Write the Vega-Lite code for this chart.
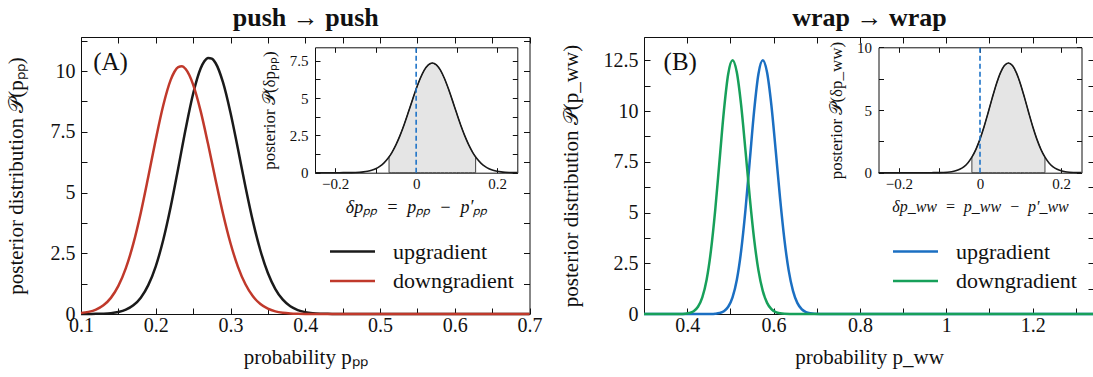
{
"$schema":"https://vega.github.io/schema/vega-lite/v6.json",
"width":1093,"height":377,"autosize":{"type":"none"},"padding":0,"background":"white",
"datasets":{
"lm":[
{"p":0.10,"d":0.001,"s":"upgradient"},{"p":0.11,"d":0.002,"s":"upgradient"},{"p":0.12,"d":0.006,"s":"upgradient"},{"p":0.13,"d":0.015,"s":"upgradient"},{"p":0.14,"d":0.036,"s":"upgradient"},{"p":0.15,"d":0.082,"s":"upgradient"},{"p":0.16,"d":0.177,"s":"upgradient"},{"p":0.17,"d":0.357,"s":"upgradient"},{"p":0.18,"d":0.673,"s":"upgradient"},{"p":0.19,"d":1.188,"s":"upgradient"},{"p":0.20,"d":1.964,"s":"upgradient"},{"p":0.21,"d":3.044,"s":"upgradient"},{"p":0.22,"d":4.412,"s":"upgradient"},{"p":0.23,"d":5.990,"s":"upgradient"},{"p":0.24,"d":7.615,"s":"upgradient"},{"p":0.25,"d":9.063,"s":"upgradient"},{"p":0.26,"d":10.10,"s":"upgradient"},{"p":0.265,"d":10.40,"s":"upgradient"},{"p":0.27,"d":10.54,"s":"upgradient"},{"p":0.275,"d":10.51,"s":"upgradient"},{"p":0.28,"d":10.33,"s":"upgradient"},{"p":0.29,"d":9.53,"s":"upgradient"},{"p":0.30,"d":8.286,"s":"upgradient"},{"p":0.31,"d":6.789,"s":"upgradient"},{"p":0.32,"d":5.240,"s":"upgradient"},{"p":0.33,"d":3.812,"s":"upgradient"},{"p":0.34,"d":2.613,"s":"upgradient"},{"p":0.35,"d":1.688,"s":"upgradient"},{"p":0.36,"d":1.027,"s":"upgradient"},{"p":0.37,"d":0.589,"s":"upgradient"},{"p":0.38,"d":0.318,"s":"upgradient"},{"p":0.39,"d":0.162,"s":"upgradient"},{"p":0.40,"d":0.078,"s":"upgradient"},{"p":0.41,"d":0.035,"s":"upgradient"},{"p":0.42,"d":0.015,"s":"upgradient"},{"p":0.43,"d":0.006,"s":"upgradient"},{"p":0.44,"d":0.002,"s":"upgradient"},{"p":0.46,"d":0,"s":"upgradient"},{"p":0.5,"d":0,"s":"upgradient"},{"p":0.6,"d":0,"s":"upgradient"},{"p":0.7,"d":0,"s":"upgradient"},
{"p":0.10,"d":0.039,"s":"downgradient"},{"p":0.11,"d":0.087,"s":"downgradient"},{"p":0.12,"d":0.182,"s":"downgradient"},{"p":0.13,"d":0.359,"s":"downgradient"},{"p":0.14,"d":0.664,"s":"downgradient"},{"p":0.15,"d":1.155,"s":"downgradient"},{"p":0.16,"d":1.886,"s":"downgradient"},{"p":0.17,"d":2.894,"s":"downgradient"},{"p":0.18,"d":4.170,"s":"downgradient"},{"p":0.19,"d":5.647,"s":"downgradient"},{"p":0.20,"d":7.183,"s":"downgradient"},{"p":0.21,"d":8.583,"s":"downgradient"},{"p":0.22,"d":9.635,"s":"downgradient"},{"p":0.225,"d":9.97,"s":"downgradient"},{"p":0.23,"d":10.16,"s":"downgradient"},{"p":0.235,"d":10.20,"s":"downgradient"},{"p":0.24,"d":10.08,"s":"downgradient"},{"p":0.245,"d":9.825,"s":"downgradient"},{"p":0.25,"d":9.44,"s":"downgradient"},{"p":0.26,"d":8.359,"s":"downgradient"},{"p":0.27,"d":6.992,"s":"downgradient"},{"p":0.28,"d":5.526,"s":"downgradient"},{"p":0.29,"d":4.127,"s":"downgradient"},{"p":0.30,"d":2.912,"s":"downgradient"},{"p":0.31,"d":1.942,"s":"downgradient"},{"p":0.32,"d":1.223,"s":"downgradient"},{"p":0.33,"d":0.728,"s":"downgradient"},{"p":0.34,"d":0.410,"s":"downgradient"},{"p":0.35,"d":0.218,"s":"downgradient"},{"p":0.36,"d":0.109,"s":"downgradient"},{"p":0.37,"d":0.052,"s":"downgradient"},{"p":0.38,"d":0.023,"s":"downgradient"},{"p":0.39,"d":0.010,"s":"downgradient"},{"p":0.40,"d":0.004,"s":"downgradient"},{"p":0.42,"d":0,"s":"downgradient"},{"p":0.5,"d":0,"s":"downgradient"},{"p":0.6,"d":0,"s":"downgradient"},{"p":0.7,"d":0,"s":"downgradient"}
],
"rm":[
{"p":0.3,"d":0,"s":"upgradient"},{"p":0.4,"d":0,"s":"upgradient"},{"p":0.455,"d":0.004,"s":"upgradient"},{"p":0.465,"d":0.015,"s":"upgradient"},{"p":0.475,"d":0.048,"s":"upgradient"},{"p":0.485,"d":0.139,"s":"upgradient"},{"p":0.495,"d":0.357,"s":"upgradient"},{"p":0.505,"d":0.82,"s":"upgradient"},{"p":0.515,"d":1.69,"s":"upgradient"},{"p":0.525,"d":3.12,"s":"upgradient"},{"p":0.535,"d":5.14,"s":"upgradient"},{"p":0.545,"d":7.58,"s":"upgradient"},{"p":0.555,"d":10.01,"s":"upgradient"},{"p":0.565,"d":11.83,"s":"upgradient"},{"p":0.575,"d":12.5,"s":"upgradient"},{"p":0.585,"d":11.90,"s":"upgradient"},{"p":0.595,"d":10.28,"s":"upgradient"},{"p":0.605,"d":8.05,"s":"upgradient"},{"p":0.615,"d":5.72,"s":"upgradient"},{"p":0.625,"d":3.69,"s":"upgradient"},{"p":0.635,"d":2.15,"s":"upgradient"},{"p":0.645,"d":1.14,"s":"upgradient"},{"p":0.655,"d":0.549,"s":"upgradient"},{"p":0.665,"d":0.240,"s":"upgradient"},{"p":0.675,"d":0.095,"s":"upgradient"},{"p":0.685,"d":0.034,"s":"upgradient"},{"p":0.695,"d":0.011,"s":"upgradient"},{"p":0.72,"d":0,"s":"upgradient"},{"p":1.0,"d":0,"s":"upgradient"},{"p":1.342,"d":0,"s":"upgradient"},
{"p":0.3,"d":0,"s":"downgradient"},{"p":0.35,"d":0,"s":"downgradient"},{"p":0.385,"d":0.004,"s":"downgradient"},{"p":0.395,"d":0.015,"s":"downgradient"},{"p":0.405,"d":0.048,"s":"downgradient"},{"p":0.415,"d":0.139,"s":"downgradient"},{"p":0.425,"d":0.357,"s":"downgradient"},{"p":0.435,"d":0.82,"s":"downgradient"},{"p":0.445,"d":1.69,"s":"downgradient"},{"p":0.455,"d":3.12,"s":"downgradient"},{"p":0.465,"d":5.14,"s":"downgradient"},{"p":0.475,"d":7.58,"s":"downgradient"},{"p":0.485,"d":10.01,"s":"downgradient"},{"p":0.495,"d":11.83,"s":"downgradient"},{"p":0.505,"d":12.5,"s":"downgradient"},{"p":0.515,"d":11.90,"s":"downgradient"},{"p":0.525,"d":10.28,"s":"downgradient"},{"p":0.535,"d":8.05,"s":"downgradient"},{"p":0.545,"d":5.72,"s":"downgradient"},{"p":0.555,"d":3.69,"s":"downgradient"},{"p":0.565,"d":2.15,"s":"downgradient"},{"p":0.575,"d":1.14,"s":"downgradient"},{"p":0.585,"d":0.549,"s":"downgradient"},{"p":0.595,"d":0.240,"s":"downgradient"},{"p":0.605,"d":0.095,"s":"downgradient"},{"p":0.615,"d":0.034,"s":"downgradient"},{"p":0.625,"d":0.011,"s":"downgradient"},{"p":0.65,"d":0,"s":"downgradient"},{"p":1.0,"d":0,"s":"downgradient"},{"p":1.342,"d":0,"s":"downgradient"}
],
"li":[
{"dp":-0.25,"d":0},{"dp":-0.2,"d":0.001},{"dp":-0.18,"d":0.002},{"dp":-0.16,"d":0.008},{"dp":-0.15,"d":0.016},{"dp":-0.14,"d":0.030},{"dp":-0.13,"d":0.055},{"dp":-0.12,"d":0.096},{"dp":-0.11,"d":0.162},{"dp":-0.10,"d":0.265},{"dp":-0.09,"d":0.418},{"dp":-0.08,"d":0.639},{"dp":-0.07,"d":0.944},{"dp":-0.06,"d":1.348},{"dp":-0.05,"d":1.861},{"dp":-0.04,"d":2.483},{"dp":-0.03,"d":3.202},{"dp":-0.02,"d":3.992},{"dp":-0.01,"d":4.811},{"dp":0,"d":5.604},{"dp":0.01,"d":6.310},{"dp":0.02,"d":6.868},{"dp":0.03,"d":7.227},{"dp":0.04,"d":7.35},{"dp":0.05,"d":7.227},{"dp":0.06,"d":6.868},{"dp":0.07,"d":6.310},{"dp":0.08,"d":5.604},{"dp":0.09,"d":4.811},{"dp":0.10,"d":3.992},{"dp":0.11,"d":3.202},{"dp":0.12,"d":2.483},{"dp":0.13,"d":1.861},{"dp":0.14,"d":1.348},{"dp":0.15,"d":0.944},{"dp":0.16,"d":0.639},{"dp":0.17,"d":0.418},{"dp":0.18,"d":0.265},{"dp":0.19,"d":0.162},{"dp":0.20,"d":0.096},{"dp":0.21,"d":0.055},{"dp":0.22,"d":0.030},{"dp":0.23,"d":0.016},{"dp":0.24,"d":0.008},{"dp":0.25,"d":0.004}
],
"lis":[
{"dp":-0.067,"d":1.055},{"dp":-0.06,"d":1.348},{"dp":-0.05,"d":1.861},{"dp":-0.04,"d":2.483},{"dp":-0.03,"d":3.202},{"dp":-0.02,"d":3.992},{"dp":-0.01,"d":4.811},{"dp":0,"d":5.604},{"dp":0.01,"d":6.310},{"dp":0.02,"d":6.868},{"dp":0.03,"d":7.227},{"dp":0.04,"d":7.35},{"dp":0.05,"d":7.227},{"dp":0.06,"d":6.868},{"dp":0.07,"d":6.310},{"dp":0.08,"d":5.604},{"dp":0.09,"d":4.811},{"dp":0.10,"d":3.992},{"dp":0.11,"d":3.202},{"dp":0.12,"d":2.483},{"dp":0.13,"d":1.861},{"dp":0.14,"d":1.348},{"dp":0.147,"d":1.055}
],
"ri":[
{"dp":-0.25,"d":0},{"dp":-0.15,"d":0},{"dp":-0.12,"d":0.001},{"dp":-0.11,"d":0.004},{"dp":-0.10,"d":0.008},{"dp":-0.09,"d":0.018},{"dp":-0.08,"d":0.038},{"dp":-0.07,"d":0.077},{"dp":-0.06,"d":0.148},{"dp":-0.05,"d":0.270},{"dp":-0.04,"d":0.471},{"dp":-0.03,"d":0.781},{"dp":-0.02,"d":1.237},{"dp":-0.01,"d":1.865},{"dp":0,"d":2.679},{"dp":0.01,"d":3.667},{"dp":0.02,"d":4.784},{"dp":0.03,"d":5.946},{"dp":0.04,"d":7.040},{"dp":0.05,"d":7.944},{"dp":0.06,"d":8.541},{"dp":0.07,"d":8.75},{"dp":0.08,"d":8.541},{"dp":0.09,"d":7.944},{"dp":0.10,"d":7.040},{"dp":0.11,"d":5.946},{"dp":0.12,"d":4.784},{"dp":0.13,"d":3.667},{"dp":0.14,"d":2.679},{"dp":0.15,"d":1.865},{"dp":0.16,"d":1.237},{"dp":0.17,"d":0.781},{"dp":0.18,"d":0.471},{"dp":0.19,"d":0.270},{"dp":0.20,"d":0.148},{"dp":0.21,"d":0.077},{"dp":0.22,"d":0.038},{"dp":0.23,"d":0.018},{"dp":0.24,"d":0.008},{"dp":0.25,"d":0.004}
],
"ris":[
{"dp":-0.02,"d":1.237},{"dp":-0.01,"d":1.865},{"dp":0,"d":2.679},{"dp":0.01,"d":3.667},{"dp":0.02,"d":4.784},{"dp":0.03,"d":5.946},{"dp":0.04,"d":7.040},{"dp":0.05,"d":7.944},{"dp":0.06,"d":8.541},{"dp":0.07,"d":8.75},{"dp":0.08,"d":8.541},{"dp":0.09,"d":7.944},{"dp":0.10,"d":7.040},{"dp":0.11,"d":5.946},{"dp":0.12,"d":4.784},{"dp":0.13,"d":3.667},{"dp":0.14,"d":2.679},{"dp":0.15,"d":1.865},{"dp":0.16,"d":1.237}
],
"tagA":[{"x":0.1395,"y":10.37,"t":"(A)"}],
"tagB":[{"x":0.384,"y":12.4,"t":"(B)"}],
"zero":[{"v":0}]
},
"layer":[
{"data":{"name":"lm"},"mark":{"type":"line","strokeWidth":2.5,"interpolate":"monotone"},
 "encoding":{
  "x":{"field":"p","type":"quantitative","scale":{"domain":[0.1,0.7],"range":[81,529.5],"nice":false,"zero":false},
   "axis":{"orient":"bottom","offset":-63,"values":[0.1,0.15,0.2,0.25,0.3,0.35,0.4,0.45,0.5,0.55,0.6,0.65,0.7],"format":".4~g","labelExpr":"round(datum.value*100) % 10 === 0 ? datum.label : ''","tickSize":-6,"labelPadding":7,"title":"probability pₚₚ","titlePadding":11}},
  "y":{"field":"d","type":"quantitative","scale":{"domain":[0,11.4],"range":[314,37],"nice":false,"zero":false},
   "axis":{"orient":"left","offset":-81,"values":[0,1.25,2.5,3.75,5,6.25,7.5,8.75,10,11.25],"format":".4~g","labelExpr":"round(datum.value*100) % 250 === 0 ? datum.label : ''","tickSize":-6,"labelPadding":12,"title":"posterior distribution 𝒫(pₚₚ)","titlePadding":24}},
  "color":{"field":"s","type":"nominal","scale":{"domain":["upgradient","downgradient"],"range":["#1a1a1a","#c0392b"]},
   "legend":{"orient":"none","legendX":340,"legendY":239,"title":null}}
 }},
{"data":{"name":"tagA"},"mark":{"type":"text","font":"Liberation Serif","fontSize":25,"color":"#111"},
 "encoding":{
  "x":{"field":"x","type":"quantitative","scale":{"domain":[0.1,0.7],"range":[81,529.5],"nice":false,"zero":false},
   "axis":{"orient":"top","offset":-37,"values":[0.1,0.15,0.2,0.25,0.3,0.35,0.4,0.45,0.5,0.55,0.6,0.65,0.7],"labels":false,"tickSize":-6,"title":"push → push","titleFontWeight":"bold","titleFontSize":26,"titlePadding":6}},
  "y":{"field":"y","type":"quantitative","scale":{"domain":[0,11.4],"range":[314,37],"nice":false,"zero":false},
   "axis":{"orient":"right","offset":-563.5,"values":[0,1.25,2.5,3.75,5,6.25,7.5,8.75,10,11.25],"labels":false,"tickSize":-6,"title":null}},
  "text":{"field":"t"}
 }},
{"data":{"name":"lis"},"mark":{"type":"area","fill":"#e5e5e5","stroke":"#444","strokeWidth":1},
 "encoding":{
  "x":{"field":"dp","type":"quantitative","scale":{"domain":[-0.25,0.25],"range":[315,517.3],"nice":false,"zero":false},
   "axis":{"orient":"bottom","offset":-204.3,"values":[-0.2,-0.1,0,0.1,0.2],"format":".4~g","labelExpr":"round(datum.value*10) % 2 === 0 ? datum.label : ''","tickSize":-5,"labelPadding":9,"labelFontSize":15,"title":"δpₚₚ\u2002=\u2002pₚₚ\u2002−\u2002p′ₚₚ","titleFontSize":18,"titleFontStyle":"italic","titlePadding":7}},
  "y":{"field":"d","type":"quantitative","scale":{"domain":[0,8.4],"range":[172.7,47.3],"nice":false,"zero":false},
   "axis":{"orient":"left","offset":-315,"values":[0,1.25,2.5,3.75,5,6.25,7.5],"format":".4~g","labelExpr":"round(datum.value*100) % 250 === 0 ? datum.label : ''","tickSize":-5,"labelPadding":12,"labelFontSize":15,"title":"posterior 𝒫(δpₚₚ)","titleFontSize":17,"titlePadding":11}}
 }},
{"data":{"name":"li"},"mark":{"type":"line","strokeWidth":1.6,"color":"#1a1a1a","interpolate":"monotone"},
 "encoding":{
  "x":{"field":"dp","type":"quantitative","scale":{"domain":[-0.25,0.25],"range":[315,517.3],"nice":false,"zero":false},
   "axis":{"orient":"top","offset":-47.3,"values":[-0.2,-0.1,0,0.1,0.2],"labels":false,"tickSize":-5,"title":null}},
  "y":{"field":"d","type":"quantitative","scale":{"domain":[0,8.4],"range":[172.7,47.3],"nice":false,"zero":false},
   "axis":{"orient":"right","offset":-575.7,"values":[0,1.25,2.5,3.75,5,6.25,7.5],"labels":false,"tickSize":-5,"title":null}}
 }},
{"data":{"name":"zero"},"mark":{"type":"rule","color":"#1f74c8","strokeWidth":1.6,"strokeDash":[5,3]},
 "encoding":{
  "x":{"field":"v","type":"quantitative","scale":{"domain":[-0.25,0.25],"range":[315,517.3],"nice":false,"zero":false},"axis":null},
  "y":{"datum":0,"type":"quantitative","scale":{"domain":[0,8.4],"range":[172.7,47.3],"nice":false,"zero":false},"axis":null},
  "y2":{"datum":8.4}
 }},
{"data":{"name":"ris"},"mark":{"type":"area","fill":"#e5e5e5","stroke":"#444","strokeWidth":1},
 "encoding":{
  "x":{"field":"dp","type":"quantitative","scale":{"domain":[-0.25,0.25],"range":[878.5,1081.5],"nice":false,"zero":false},
   "axis":{"orient":"bottom","offset":-204.3,"values":[-0.2,-0.1,0,0.1,0.2],"format":".4~g","labelExpr":"round(datum.value*10) % 2 === 0 ? datum.label : ''","tickSize":-5,"labelPadding":9,"labelFontSize":15,"title":"δp_ww\u2002=\u2002p_ww\u2002−\u2002p′_ww","titleFontSize":16,"titleFontStyle":"italic","titlePadding":7}},
  "y":{"field":"d","type":"quantitative","scale":{"domain":[0,10],"range":[172.7,47.3],"nice":false,"zero":false},
   "axis":{"orient":"left","offset":-878.5,"values":[0,2.5,5,7.5,10],"format":".4~g","labelExpr":"round(datum.value*100) % 500 === 0 ? datum.label : ''","tickSize":-5,"labelPadding":12,"labelFontSize":15,"title":"posterior 𝒫(δp_ww)","titleFontSize":17,"titlePadding":11}}
 }},
{"data":{"name":"ri"},"mark":{"type":"line","strokeWidth":1.6,"color":"#1a1a1a","interpolate":"monotone"},
 "encoding":{
  "x":{"field":"dp","type":"quantitative","scale":{"domain":[-0.25,0.25],"range":[878.5,1081.5],"nice":false,"zero":false},
   "axis":{"orient":"top","offset":-47.3,"values":[-0.2,-0.1,0,0.1,0.2],"labels":false,"tickSize":-5,"title":null}},
  "y":{"field":"d","type":"quantitative","scale":{"domain":[0,10],"range":[172.7,47.3],"nice":false,"zero":false},
   "axis":{"orient":"right","offset":-11.5,"values":[0,2.5,5,7.5,10],"labels":false,"tickSize":-5,"title":null}}
 }},
{"data":{"name":"zero"},"mark":{"type":"rule","color":"#1f74c8","strokeWidth":1.6,"strokeDash":[5,3]},
 "encoding":{
  "x":{"field":"v","type":"quantitative","scale":{"domain":[-0.25,0.25],"range":[878.5,1081.5],"nice":false,"zero":false},"axis":null},
  "y":{"datum":0,"type":"quantitative","scale":{"domain":[0,10],"range":[172.7,47.3],"nice":false,"zero":false},"axis":null},
  "y2":{"datum":10}
 }},
{"data":{"name":"rm"},"mark":{"type":"line","strokeWidth":2.5,"interpolate":"monotone"},
 "encoding":{
  "x":{"field":"p","type":"quantitative","scale":{"domain":[0.3,1.342],"range":[644,1094],"nice":false,"zero":false},
   "axis":{"orient":"bottom","offset":-63,"values":[0.3,0.4,0.5,0.6,0.7,0.8,0.9,1,1.1,1.2,1.3],"format":".4~g","labelExpr":"round(datum.value*10) % 2 === 0 ? datum.label : ''","tickSize":-6,"labelPadding":7,"title":"probability p_ww","titlePadding":11}},
  "y":{"field":"d","type":"quantitative","scale":{"domain":[0,13.65],"range":[314,37],"nice":false,"zero":false},
   "axis":{"orient":"left","offset":-644,"values":[0,1.25,2.5,3.75,5,6.25,7.5,8.75,10,11.25,12.5],"format":".4~g","labelExpr":"round(datum.value*100) % 250 === 0 ? datum.label : ''","tickSize":-6,"labelPadding":12,"title":"posterior distribution 𝒫(p_ww)","titlePadding":22}},
  "color":{"field":"s","type":"nominal","scale":{"domain":["upgradient","downgradient"],"range":["#1b6fc2","#17a05a"]},
   "legend":{"orient":"none","legendX":903,"legendY":239,"title":null}}
 }},
{"data":{"name":"tagB"},"mark":{"type":"text","font":"Liberation Serif","fontSize":25,"color":"#111"},
 "encoding":{
  "x":{"field":"x","type":"quantitative","scale":{"domain":[0.3,1.342],"range":[644,1094],"nice":false,"zero":false},
   "axis":{"orient":"top","offset":-37,"values":[0.3,0.4,0.5,0.6,0.7,0.8,0.9,1,1.1,1.2,1.3],"labels":false,"tickSize":-6,"title":"wrap → wrap","titleFontWeight":"bold","titleFontSize":26,"titlePadding":6}},
  "y":{"field":"y","type":"quantitative","scale":{"domain":[0,13.65],"range":[314,37],"nice":false,"zero":false},
   "axis":{"orient":"right","offset":1,"values":[0,1.25,2.5,3.75,5,6.25,7.5,8.75,10,11.25,12.5],"labels":false,"tickSize":-6,"title":null}},
  "text":{"field":"t"}
 }}
],
"resolve":{"scale":{"x":"independent","y":"independent","color":"independent"},"axis":{"x":"independent","y":"independent"},"legend":{"color":"independent"}},
"config":{
 "view":{"stroke":null},
 "axis":{"grid":false,"labelFont":"Liberation Serif","titleFont":"Liberation Serif","labelFontSize":20,"titleFontSize":21,"titleFontWeight":"normal","labelColor":"#111","titleColor":"#111","domainColor":"#111","tickColor":"#111","domainWidth":1,"tickWidth":1,"labelFlush":false,"labelOverlap":false},
 "legend":{"symbolType":"M-2,0H2","symbolSize":506.25,"symbolStrokeWidth":2.5,"labelFont":"Liberation Serif","labelFontSize":22,"labelColor":"#111","labelOffset":28,"rowPadding":5.5}
}
}
